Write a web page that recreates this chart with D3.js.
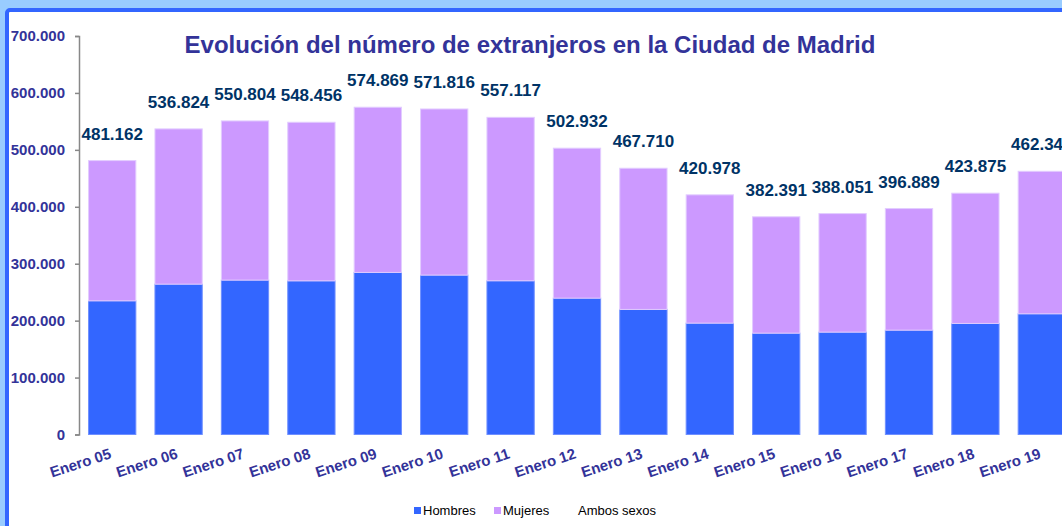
<!DOCTYPE html>
<html>
<head>
<meta charset="utf-8">
<script src="https://cdn.jsdelivr.net/npm/d3@7"></script>
<style>
  html, body { margin: 0; padding: 0; background: #99ccff; overflow: hidden; }
  text { font-family: Arial, "Liberation Sans", sans-serif; }
</style>
</head>
<body>
<svg id="chart"></svg>
<script>
const categories = ["Enero 05","Enero 06","Enero 07","Enero 08","Enero 09","Enero 10","Enero 11","Enero 12","Enero 13","Enero 14","Enero 15","Enero 16","Enero 17","Enero 18","Enero 19"];
const totals  = [481162, 536824, 550804, 548456, 574869, 571816, 557117, 502932, 467710, 420978, 382391, 388051, 396889, 423875, 462343];
const hombres = [234800, 264100, 271200, 269900, 284700, 280000, 270000, 239500, 219700, 195600, 178000, 179800, 183300, 195100, 212000];
const mujeres = totals.map((t, i) => t - hombres[i]);
const yTicks  = [0, 100000, 200000, 300000, 400000, 500000, 600000, 700000];
const legendItems = [
  {label: "Hombres", color: "#3366ff"},
  {label: "Mujeres", color: "#cc99ff"},
  {label: "Ambos sexos", color: null}
];

const width = 1062, height = 526;
const svg = d3.select("#chart").attr("width", width).attr("height", height);

// background frame
svg.append("rect").attr("width", width).attr("height", height).attr("fill", "#99ccff");
svg.append("rect")
    .attr("x", 7).attr("y", 10)
    .attr("width", 1200).attr("height", 700)
    .attr("rx", 3)
    .attr("fill", "#fff")
    .attr("stroke", "#3366ff")
    .attr("stroke-width", 4);

const fmt = d3.formatLocale({decimal: ",", thousands: ".", grouping: [3], currency: ["", ""]}).format(",");

const xScale = d3.scaleBand()
    .domain(categories)
    .range([79, 1075])
    .paddingInner(0.288)
    .paddingOuter(0.144);

const yScale = d3.scaleLinear()
    .domain([0, 700000])
    .range([434.5, 36]);

// y axis
const yAxis = d3.axisLeft(yScale).tickValues(yTicks).tickSize(4).tickFormat(fmt);
const yAxisView = svg.append("g").attr("transform", "translate(79,0)").call(yAxis);
yAxisView.select(".domain").attr("stroke", "#888").attr("stroke-width", 1.5);
yAxisView.selectAll(".tick line").attr("stroke", "#888").attr("stroke-width", 1.5);
yAxisView.selectAll(".tick text")
    .attr("x", -14)
    .attr("fill", "#333399")
    .style("font-size", "15px")
    .style("font-weight", "bold")
    .style("font-family", "Arial, 'Liberation Sans', sans-serif");

// stacked bars
const stacked = d3.stack().keys(["hombres", "mujeres"])(
    categories.map((c, i) => ({cat: c, hombres: hombres[i], mujeres: mujeres[i]})));
const colors = {hombres: "#3366ff", mujeres: "#cc99ff"};
const edges = {hombres: "#6f8fff", mujeres: "#e2ccff"};

svg.append("g").selectAll("g")
    .data(stacked)
    .enter().append("g")
    .attr("fill", d => colors[d.key])
    .attr("stroke", d => edges[d.key])
    .attr("stroke-width", 1)
    .selectAll("rect")
    .data(d => d)
    .enter().append("rect")
    .attr("x", d => xScale(d.data.cat))
    .attr("width", xScale.bandwidth())
    .attr("y", d => yScale(d[1]))
    .attr("height", d => yScale(d[0]) - yScale(d[1]));

// total labels
svg.append("g").selectAll("text")
    .data(categories)
    .enter().append("text")
    .attr("x", d => xScale(d) + xScale.bandwidth() / 2)
    .attr("y", (d, i) => yScale(totals[i]) - 21)
    .attr("text-anchor", "middle")
    .attr("fill", "#003366")
    .style("font-size", "17px")
    .style("font-weight", "bold")
    .text((d, i) => fmt(totals[i]));

// x labels, rotated
svg.append("g").selectAll("text")
    .data(categories)
    .enter().append("text")
    .attr("transform", d => `translate(${xScale(d) + xScale.bandwidth() / 2},458) rotate(-18)`)
    .attr("text-anchor", "end")
    .attr("fill", "#333399")
    .style("font-size", "15px")
    .style("font-weight", "bold")
    .text(d => d);

// title
svg.append("text")
    .attr("x", 530).attr("y", 53)
    .attr("text-anchor", "middle")
    .attr("fill", "#333399")
    .style("font-size", "24px")
    .style("font-weight", "bold")
    .text("Evolución del número de extranjeros en la Ciudad de Madrid");

// legend
const legendX = [414, 494, 578];
const legend = svg.append("g").selectAll("g")
    .data(legendItems)
    .enter().append("g")
    .attr("transform", (d, i) => `translate(${legendX[i]},0)`);
legend.filter(d => d.color)
    .append("rect")
    .attr("x", 0).attr("y", 507)
    .attr("width", 7).attr("height", 7)
    .attr("fill", d => d.color);
legend.append("text")
    .attr("x", d => d.color ? 9 : 0)
    .attr("y", 515)
    .attr("fill", "#000")
    .style("font-size", "13px")
    .text(d => d.label);
</script>
</body>
</html>
